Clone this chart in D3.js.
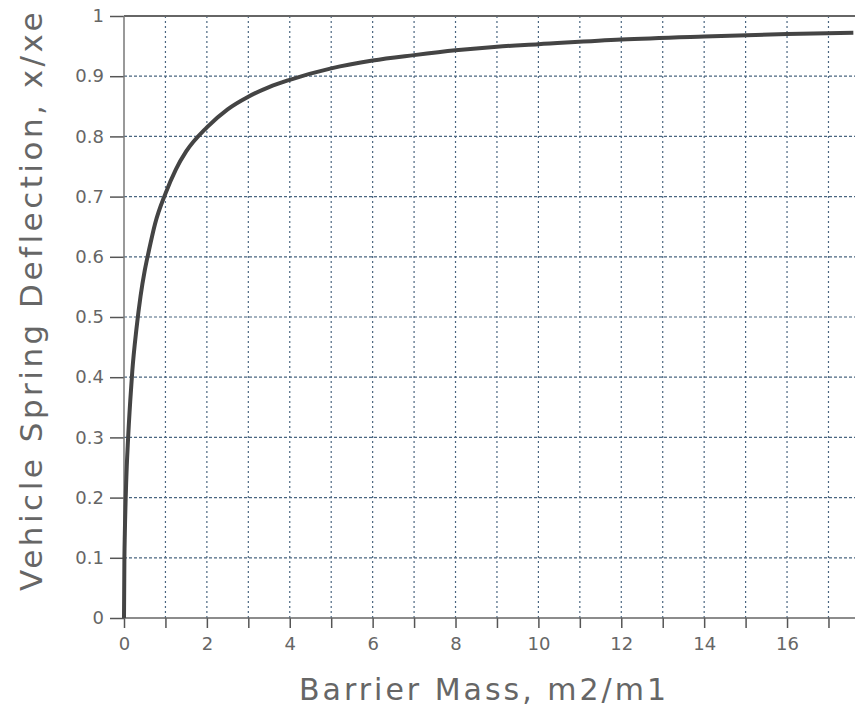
<!DOCTYPE html>
<html>
<head>
<meta charset="utf-8">
<script src="https://cdn.jsdelivr.net/npm/d3@7"></script>
<style>
  body { margin: 0; background: #fff; }
  text { font-family: 'DejaVu Sans', sans-serif; fill: #666; }
</style>
</head>
<body>
<svg id="chart" width="855" height="709"></svg>
<script>
// values
const massRatio = [0, 0.01, 0.02, 0.05, 0.1, 0.15, 0.2, 0.3, 0.4, 0.5, 0.6, 0.75, 1, 1.25, 1.5, 2, 2.5, 3, 3.5, 4, 5, 6, 7, 8, 9, 10, 12, 14, 16, 17.6];
const deflection = [0, 0.10, 0.14, 0.22, 0.30, 0.36, 0.41, 0.48, 0.535, 0.577, 0.61, 0.655, 0.705, 0.745, 0.775, 0.815, 0.845, 0.866, 0.882, 0.894, 0.913, 0.926, 0.935, 0.943, 0.949, 0.953, 0.961, 0.966, 0.970, 0.972];
const xTicks = [0, 1, 2, 3, 4, 5, 6, 7, 8, 9, 10, 11, 12, 13, 14, 15, 16, 17];
const xLabels = [0, 2, 4, 6, 8, 10, 12, 14, 16];
const yTicks = [0, 0.1, 0.2, 0.3, 0.4, 0.5, 0.6, 0.7, 0.8, 0.9, 1];

const margin = { top: 16, left: 124, bottom: 91 };
const width = 855 - margin.left;
const height = 709 - margin.top - margin.bottom;

const svg = d3.select('#chart');
const chart = svg.append('g').attr('transform', `translate(${margin.left},${margin.top})`);

const x = d3.scaleLinear().domain([0, 17.64]).range([0, width]);
const y = d3.scaleLinear().domain([0, 1]).range([height, 0]);

// grid
chart.append('g')
  .selectAll('line')
  .data(xTicks.filter(d => d > 0))
  .enter()
  .append('line')
  .attr('x1', d => x(d)).attr('x2', d => x(d))
  .attr('y1', 0).attr('y2', height)
  .attr('stroke', '#4a6680')
  .attr('stroke-width', 1.2)
  .attr('stroke-dasharray', '2,3');

chart.append('g')
  .selectAll('line')
  .data(yTicks.filter(d => d > 0 && d < 1))
  .enter()
  .append('line')
  .attr('x1', 0).attr('x2', width)
  .attr('y1', d => y(d)).attr('y2', d => y(d))
  .attr('stroke', '#4a6680')
  .attr('stroke-width', 1.2)
  .attr('stroke-dasharray', '3,2');

// axes
const yAxis = chart.append('g')
  .call(d3.axisLeft(y).tickValues(yTicks).tickSize(14).tickPadding(6).tickFormat(d3.format('')));
yAxis.select('.domain').remove();
yAxis.selectAll('line').attr('stroke', '#555').attr('stroke-width', 1.5);
yAxis.selectAll('text').attr('font-size', '18px').attr('fill', '#777');

const xAxis = chart.append('g')
  .attr('transform', `translate(0,${height})`)
  .call(d3.axisBottom(x).tickValues(xTicks).tickSize(10).tickPadding(9)
    .tickFormat(d => xLabels.includes(d) ? d : ''));
xAxis.select('.domain').remove();
xAxis.selectAll('line').attr('stroke', '#555').attr('stroke-width', 1.5);
xAxis.selectAll('text').attr('font-size', '18px').attr('fill', '#777');

// frame
chart.append('line').attr('x1', 0).attr('x2', width).attr('y1', height).attr('y2', height)
  .attr('stroke', '#666').attr('stroke-width', 1.5);
chart.append('line').attr('x1', 0).attr('x2', width).attr('y1', 0).attr('y2', 0)
  .attr('stroke', '#666').attr('stroke-width', 2);
chart.append('line').attr('x1', 0).attr('x2', 0).attr('y1', 0).attr('y2', height)
  .attr('stroke', '#777').attr('stroke-width', 1.5);

// curve
const points = massRatio.map((m, i) => ({ m, v: deflection[i] }));
chart.append('path')
  .datum(points)
  .attr('fill', 'none')
  .attr('stroke', '#444')
  .attr('stroke-width', 4)
  .attr('d', d3.line().x(d => x(d.m)).y(d => y(d.v)).curve(d3.curveMonotoneX));

// titles
svg.append('text')
  .attr('x', 484).attr('y', 700)
  .attr('text-anchor', 'middle')
  .attr('font-size', '30px')
  .attr('letter-spacing', '3px')
  .attr('fill', '#777')
  .text('Barrier Mass, m2/m1');

svg.append('text')
  .attr('transform', 'translate(42,300) rotate(-90)')
  .attr('text-anchor', 'middle')
  .attr('font-size', '31px')
  .attr('letter-spacing', '3.5px')
  .attr('fill', '#777')
  .text('Vehicle Spring Deflection, x/xe');
</script>
</body>
</html>
